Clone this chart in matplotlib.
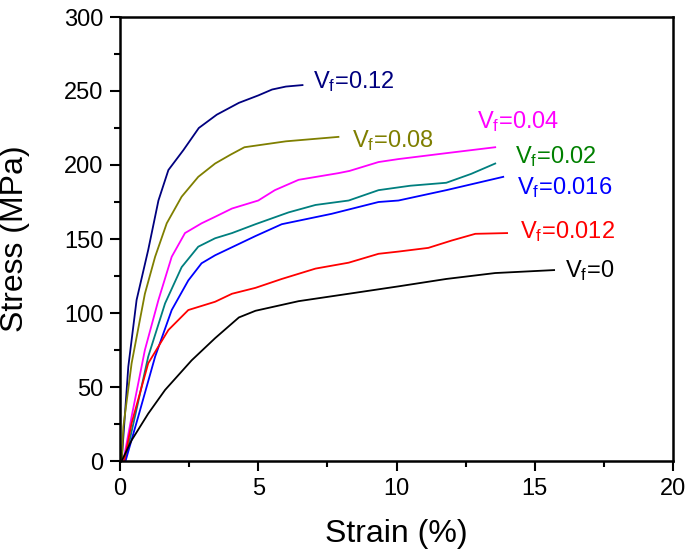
import matplotlib
matplotlib.use("Agg")
import matplotlib.pyplot as plt
from matplotlib.ticker import MultipleLocator

plt.rcParams['font.family'] = ['Liberation Sans', 'DejaVu Sans']
plt.rcParams['mathtext.fontset'] = 'custom'
plt.rcParams['mathtext.rm'] = 'Liberation Sans'
plt.rcParams['mathtext.it'] = 'Liberation Sans'

# ---- data ----
strain_012 = [0.06, 0.3, 0.6, 1.02, 1.39, 1.75, 2.29, 2.85, 3.5, 4.3, 5.0, 5.5, 6.0, 6.6]
stress_012 = [0, 63.7, 108.8, 142.6, 176, 196.6, 210, 225, 234, 242, 247, 251, 253, 254]

strain_008 = [0.06, 0.12, 0.42, 0.9, 1.27, 1.69, 2.23, 2.83, 3.44, 4.0, 4.5, 6.0, 7.9]
stress_008 = [0, 23, 66, 113, 138, 160.6, 178.6, 192, 201, 207, 212, 216, 219]

strain_004 = [0.12, 0.42, 0.9, 1.39, 1.87, 2.35, 2.95, 3.44, 4.05, 5.0, 5.6, 6.46, 7.9, 8.3, 9.35, 10.07, 11.8, 13.57]
stress_004 = [0, 30, 75, 108.8, 138, 154, 160.6, 165, 170.6, 176, 183, 190, 194.5, 196, 202, 204, 208, 212]

strain_002 = [0.18, 0.54, 1.02, 1.63, 2.23, 2.83, 3.44, 4.05, 4.9, 6.1, 7.07, 8.27, 9.35, 10.5, 11.8, 12.7, 13.57]
stress_002 = [0, 30, 70.5, 106.5, 131, 144.8, 150.5, 154, 160, 168, 173, 176, 183, 186, 188, 194, 201]

strain_0016 = [0.2, 0.66, 1.27, 1.87, 2.47, 2.95, 3.44, 4.9, 5.85, 7.65, 9.35, 10.07, 11.8, 13.86]
stress_0016 = [0, 30, 70.5, 102, 122, 133.6, 139, 152, 160, 167, 175, 176, 183, 192]

strain_0012 = [0.15, 0.42, 1.02, 1.75, 2.47, 3.44, 4.05, 4.9, 5.85, 7.07, 8.27, 9.35, 10.07, 11.15, 12.0, 12.85, 14.0]
stress_0012 = [0, 25.5, 66, 88.5, 102, 107.6, 113, 117, 123, 130, 134, 140, 141.5, 144, 149, 153.5, 154]

strain_0 = [0.06, 0.42, 1.02, 1.63, 2.59, 3.44, 4.3, 4.9, 6.46, 8.27, 9.35, 10.07, 11.8, 13.57, 15.7]
stress_0 = [0, 14, 32, 48, 68, 83, 97, 101.5, 108, 113, 116, 118, 123, 127, 129]

series = [
    (strain_012, stress_012, '#00007F', '#00007F', r'V$_{\mathregular{f}}$=0.12', 6.98, 252),
    (strain_008, stress_008, '#7F7F00', '#7F7F00', r'V$_{\mathregular{f}}$=0.08', 8.39, 212),
    (strain_004, stress_004, '#FF00FF', '#FF00FF', r'V$_{\mathregular{f}}$=0.04', 12.91, 225),
    (strain_002, stress_002, '#007F7F', '#008000', r'V$_{\mathregular{f}}$=0.02', 14.29, 201),
    (strain_0016, stress_0016, '#0000FF', '#0000FF', r'V$_{\mathregular{f}}$=0.016', 14.36, 180),
    (strain_0012, stress_0012, '#FF0000', '#FF0000', r'V$_{\mathregular{f}}$=0.012', 14.47, 150.7),
    (strain_0, stress_0, '#000000', '#000000', r'V$_{\mathregular{f}}$=0', 16.09, 124.3),
]

fig = plt.figure(figsize=(6.92, 5.57), dpi=100)
ax = fig.add_axes([120/692, 96/557, 553/692, 444/557])

for xs, ys, lc, tc, lab, lx, ly in series:
    ax.plot(xs, ys, color=lc, lw=1.3)
    ax.text(lx, ly, lab, color=tc, fontsize=17, ha='left', va='baseline')

ax.set_xlim(0, 20)
ax.set_ylim(0, 300)
ax.xaxis.set_major_locator(MultipleLocator(5))
ax.xaxis.set_minor_locator(MultipleLocator(2.5))
ax.yaxis.set_major_locator(MultipleLocator(50))
ax.yaxis.set_minor_locator(MultipleLocator(25))
ax.tick_params(which='major', direction='out', length=7, width=1.5, labelsize=17, pad=5,
               top=False, right=False)
ax.tick_params(which='minor', direction='out', length=4, width=1.5, top=False, right=False)
for s in ax.spines.values():
    s.set_linewidth(1.8)

ax.set_xlabel('Strain (%)', fontsize=23)
ax.set_ylabel('Stress (MPa)', fontsize=23)
ax.xaxis.set_label_coords(0.5, -0.13)
ax.yaxis.set_label_coords(-0.163, 0.5)

fig.savefig('out.png', dpi=100)
